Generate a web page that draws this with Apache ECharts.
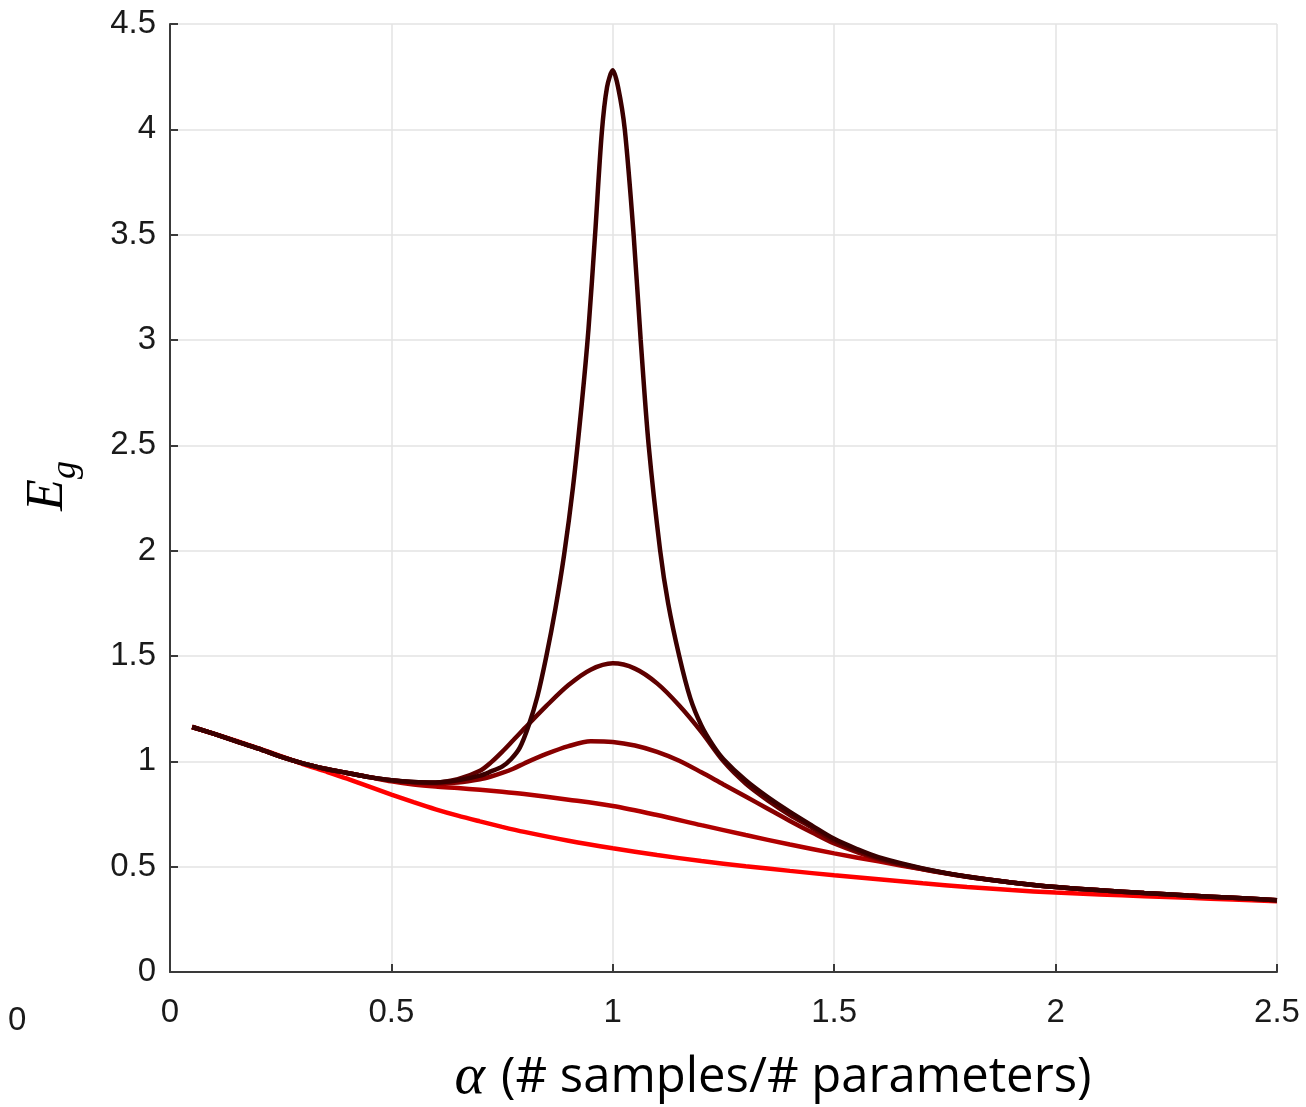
<!DOCTYPE html>
<html>
<head>
<meta charset="utf-8">
<script src="https://cdn.jsdelivr.net/npm/echarts@6/dist/echarts.min.js"></script>
<style>
  html, body { margin: 0; padding: 0; background: #fff; }
  #chart { width: 1306px; height: 1107px; }
</style>
</head>
<body>
<div id="chart"></div>
<script>
// alpha values, one list per curve
const alphaDark = [0.05, 0.1, 0.15, 0.2, 0.25, 0.3, 0.35, 0.4, 0.45, 0.5, 0.55, 0.6, 0.65, 0.7, 0.725, 0.75, 0.77, 0.79, 0.81, 0.83, 0.85, 0.87, 0.89, 0.91, 0.93, 0.945, 0.96, 0.975, 0.987, 1.0, 1.012, 1.027, 1.047, 1.063, 1.081, 1.107, 1.125, 1.15, 1.175, 1.2, 1.225, 1.25, 1.3, 1.35, 1.4, 1.45, 1.5, 1.55, 1.6, 1.7, 1.8, 1.9, 2.0, 2.1, 2.2, 2.3, 2.4, 2.5]
const egDark = [1.163, 1.13, 1.095, 1.06, 1.022, 0.99, 0.965, 0.945, 0.925, 0.91, 0.902, 0.9, 0.91, 0.932, 0.952, 0.975, 1.01, 1.065, 1.17, 1.31, 1.5, 1.72, 1.98, 2.3, 2.7, 3.05, 3.5, 3.98, 4.2, 4.28, 4.2, 4.0, 3.5, 3.0, 2.5, 2.0, 1.75, 1.5, 1.3, 1.17, 1.08, 1.01, 0.91, 0.83, 0.76, 0.695, 0.632, 0.585, 0.545, 0.492, 0.453, 0.425, 0.403, 0.388, 0.375, 0.363, 0.352, 0.341]

const alphaMid = [0.05, 0.1, 0.15, 0.2, 0.25, 0.3, 0.35, 0.4, 0.45, 0.5, 0.55, 0.6, 0.65, 0.7, 0.725, 0.75, 0.775, 0.8, 0.85, 0.9, 0.95, 1.0, 1.05, 1.1, 1.15, 1.2, 1.25, 1.3, 1.35, 1.4, 1.45, 1.5, 1.6, 1.7, 1.8, 1.9, 2.0, 2.1, 2.2, 2.3, 2.4, 2.5]
const egCurve2 = [1.163, 1.13, 1.095, 1.06, 1.022, 0.99, 0.965, 0.945, 0.925, 0.91, 0.902, 0.9, 0.915, 0.955, 0.995, 1.045, 1.1, 1.155, 1.263, 1.362, 1.435, 1.465, 1.44, 1.37, 1.265, 1.14, 1.0, 0.895, 0.815, 0.745, 0.685, 0.622, 0.54, 0.49, 0.452, 0.425, 0.403, 0.388, 0.375, 0.363, 0.352, 0.341]
const egCurve3 = [1.163, 1.13, 1.095, 1.06, 1.022, 0.99, 0.965, 0.945, 0.925, 0.91, 0.9, 0.895, 0.9, 0.915, 0.928, 0.945, 0.965, 0.99, 1.035, 1.072, 1.095, 1.092, 1.075, 1.045, 1.003, 0.948, 0.89, 0.833, 0.775, 0.717, 0.662, 0.61, 0.535, 0.488, 0.452, 0.425, 0.403, 0.388, 0.375, 0.363, 0.352, 0.341]

const alphaLow = [0.05, 0.1, 0.15, 0.2, 0.25, 0.3, 0.35, 0.4, 0.45, 0.5, 0.55, 0.6, 0.65, 0.7, 0.75, 0.8, 0.9, 1.0, 1.1, 1.2, 1.3, 1.4, 1.5, 1.6, 1.7, 1.8, 1.9, 2.0, 2.1, 2.2, 2.3, 2.4, 2.5]
const egCurve4 = [1.163, 1.13, 1.095, 1.06, 1.022, 0.99, 0.965, 0.945, 0.925, 0.905, 0.89, 0.88, 0.873, 0.865, 0.856, 0.845, 0.818, 0.788, 0.745, 0.697, 0.65, 0.605, 0.563, 0.525, 0.487, 0.453, 0.425, 0.403, 0.388, 0.375, 0.363, 0.352, 0.341]
const egRed = [1.163, 1.13, 1.097, 1.062, 1.025, 0.987, 0.953, 0.918, 0.88, 0.842, 0.806, 0.772, 0.742, 0.715, 0.689, 0.665, 0.623, 0.587, 0.555, 0.527, 0.502, 0.48, 0.459, 0.44, 0.421, 0.404, 0.389, 0.377, 0.368, 0.36, 0.352, 0.344, 0.336]

const curveColors = ['#ff0000', '#b00000', '#870000', '#600000', '#3a0000']
const xTicks = { min: 0, max: 2.5, step: 0.5 }
const yTicks = { min: 0, max: 4.5, step: 0.5 }

const pairs = (xs, ys) => xs.map((x, i) => [x, ys[i]])

const chart = echarts.init(document.getElementById('chart'))

const curves = [
  pairs(alphaLow, egRed),
  pairs(alphaLow, egCurve4),
  pairs(alphaMid, egCurve3),
  pairs(alphaMid, egCurve2),
  pairs(alphaDark, egDark)
]

const labelFont = '"Liberation Sans", Arial, sans-serif'

const option = {
  animation: false,
  backgroundColor: '#ffffff',
  grid: { left: 170, right: 29, top: 24, bottom: 135 },
  xAxis: {
    type: 'value',
    min: xTicks.min,
    max: xTicks.max,
    interval: xTicks.step,
    axisLine: { show: true, lineStyle: { color: '#3a3a3a', width: 2 } },
    axisTick: { show: true, inside: true, length: 8, lineStyle: { color: '#3a3a3a', width: 2 } },
    axisLabel: { fontSize: 33, color: '#1a1a1a', fontFamily: labelFont, margin: 24 },
    splitLine: { show: true, lineStyle: { color: '#e3e3e3', width: 1.5 } }
  },
  yAxis: {
    type: 'value',
    min: yTicks.min,
    max: yTicks.max,
    interval: yTicks.step,
    axisLine: { show: true, lineStyle: { color: '#3a3a3a', width: 2 } },
    axisTick: { show: true, inside: true, length: 8, lineStyle: { color: '#3a3a3a', width: 2 } },
    axisLabel: { fontSize: 33, color: '#1a1a1a', fontFamily: labelFont, margin: 14 },
    splitLine: { show: true, lineStyle: { color: '#e3e3e3', width: 1.5 } }
  },
  series: curves.map((data, i) => ({
    type: 'line',
    data: data,
    smooth: 0.3,
    showSymbol: false,
    lineStyle: { color: curveColors[i], width: 4.5 },
    z: 2 + i
  })),
  graphic: [
    {
      type: 'text',
      x: 8,
      y: 1004,
      style: { text: '0', fill: '#1a1a1a', font: '33px ' + labelFont }
    },
    {
      type: 'text',
      x: 48,
      y: 486,
      rotation: Math.PI / 2,
      style: {
        text: '{e|E}{g|g}',
        align: 'center',
        verticalAlign: 'middle',
        rich: {
          e: { fontFamily: '"Liberation Serif", serif', fontStyle: 'italic', fontSize: 52, lineHeight: 52, verticalAlign: 'top', fill: '#000' },
          g: { fontFamily: '"Liberation Serif", serif', fontStyle: 'italic', fontSize: 36, lineHeight: 36, padding: [26, 0, 0, 0], verticalAlign: 'top', fill: '#000' }
        }
      }
    },
    {
      type: 'text',
      x: 773,
      y: 1078,
      style: {
        text: '{a|α}{t|(# samples/# parameters)}',
        align: 'center',
        verticalAlign: 'middle',
        rich: {
          a: { fontFamily: '"Liberation Serif", serif', fontStyle: 'italic', fontSize: 58, padding: [0, 16, 0, 0], fill: '#000' },
          t: { fontFamily: '"Open Sans", sans-serif', fontSize: 49, fill: '#000' }
        }
      }
    }
  ]
}

chart.setOption(option)
</script>
</body>
</html>
